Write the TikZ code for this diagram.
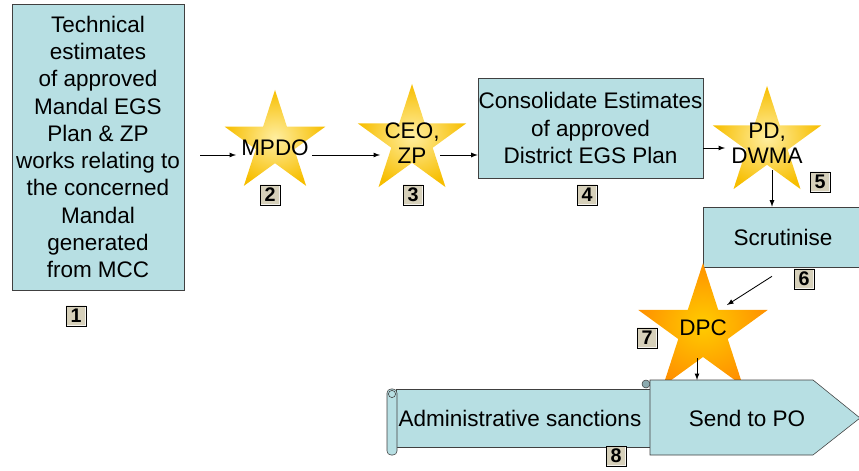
\documentclass[tikz,border=0pt]{standalone}
\usepackage{fontspec}
\setmainfont{Liberation Sans}
\usetikzlibrary{shapes,arrows,positioning,calc}
\definecolor{boxblue}{RGB}{183,223,227}
\definecolor{starhi}{RGB}{255,238,160}
\definecolor{starlo}{RGB}{247,190,0}
\definecolor{dpchi}{RGB}{255,204,0}
\definecolor{dpclo}{RGB}{255,145,0}
\definecolor{tagfill}{RGB}{214,208,186}
\definecolor{curlblue}{RGB}{140,170,175}

\begin{document}
\begin{tikzpicture}[x=0.025cm, y=-0.025cm,
    process/.style={rectangle, draw=black!75, fill=boxblue, align=center, inner sep=0pt, font=\fontsize{16}{19.4}\selectfont},
    star5/.style={star, star points=5, star point ratio=2.618, inner sep=0pt, shading=radial, inner color=starhi, outer color=starlo},
    startext/.style={align=center, font=\fontsize{16}{17.5}\selectfont},
    numtag/.style={rectangle, draw=black, line width=0.6pt, fill=tagfill, minimum size=0.5cm, inner sep=0pt, font=\fontsize{14}{14}\selectfont\bfseries,
        path picture={
            \draw[white!75!tagfill, line width=1.2pt] ([shift={(0.07,0.07)}]path picture bounding box.south west) rectangle ([shift={(-0.07,-0.07)}]path picture bounding box.north east);
            \draw[black!70, line width=0.4pt] ([shift={(0.13,0.13)}]path picture bounding box.south west) rectangle ([shift={(-0.13,-0.13)}]path picture bounding box.north east);
        }},
    arrow/.style={->, >=latex, line width=0.6pt}
]
    \useasboundingbox (0,0) rectangle (859,471);

    % Mandal estimates
    \node[process, minimum width=4.3cm, minimum height=7.15cm] (tech) at (98,147) {Technical\\estimates\\of approved\\Mandal EGS\\Plan \& ZP\\works relating to\\the concerned\\Mandal\\generated\\from MCC};

    % Officers
    \node[star5, minimum size=2.65cm, label={[startext, yshift=-0.12cm]center:MPDO}] (mpdo) at (275,143) {};
    \node[star5, minimum size=2.85cm, label={[startext, yshift=-0.05cm]center:CEO,\\ZP}] (ceo) at (412,141) {};
    \node[process, minimum width=5.625cm, minimum height=2.5cm] (cons) at (590.5,128) {Consolidate Estimates\\of approved\\District EGS Plan};
    \node[star5, minimum size=2.85cm, label={[startext]center:PD,\\DWMA}] (pd) at (767,143) {};
    \node[process, minimum width=4cm, minimum height=1.5cm] (scrut) at (783,237) {Scrutinise};
    \node[star5, minimum size=3.4cm, inner color=dpchi, outer color=dpclo, label={[startext, yshift=0.08cm]center:DPC}] (dpc) at (703,331) {};

    % Sanctions scroll
    \filldraw[draw=black!75, fill=boxblue] (396,389) -- (650,389) -- (650,447) -- (396,447) -- cycle;
    \filldraw[draw=black!75, fill=boxblue, rounded corners=0.1cm] (387,389) rectangle (397,455);
    \filldraw[draw=black!75, fill=boxblue] (392,394) circle (0.09cm);
    \draw[black!75] (650,384) -- (650,389);
    \filldraw[draw=black!75, fill=curlblue] (646,384) circle (0.1cm);
    \node[font=\fontsize{16}{19.4}\selectfont] (admin) at (520,418) {Administrative sanctions};

    % Send to PO
    \filldraw[draw=black!75, fill=boxblue] (650,380) -- (813,380) -- (860,418) -- (813,455) -- (650,455) -- cycle;
    \coordinate (potop) at (697,380);
    \node[font=\fontsize{16}{19.4}\selectfont] (sendpo) at (747,418) {Send to PO};

    % Step numbers
    \node[numtag] (t1) at (76,316) {1};
    \node[numtag] (t2) at (270,195) {2};
    \node[numtag] (t3) at (413,195) {3};
    \node[numtag] (t4) at (587,195) {4};
    \node[numtag] (t5) at (820,182) {5};
    \node[numtag] (t6) at (804,279) {6};
    \node[numtag] (t7) at (647,338) {7};
    \node[numtag] (t8) at (616,456) {8};

    % Arrows
    \draw[arrow] ($(tech.east)+(16,8)$) -- ($(mpdo)+(-39,12)$);
    \draw[arrow] ($(mpdo)+(37,12)$) -- ($(ceo)+(-32,14)$);
    \draw[arrow] ($(ceo)+(28,14)$) -- ($(cons.west)+(0,27)$);
    \draw[arrow] ($(cons.east)+(0,20)$) -- ($(pd)+(-42,5)$);
    \draw[arrow] ($(pd)+(5,27)$) -- ($(scrut.north)+(-11,0)$);
    \draw[arrow] ($(scrut.south)+(-11,9)$) -- ($(dpc)+(24,-26)$);
    \draw[arrow] ($(dpc)+(-6,27)$) -- (potop);
\end{tikzpicture}
\end{document}
